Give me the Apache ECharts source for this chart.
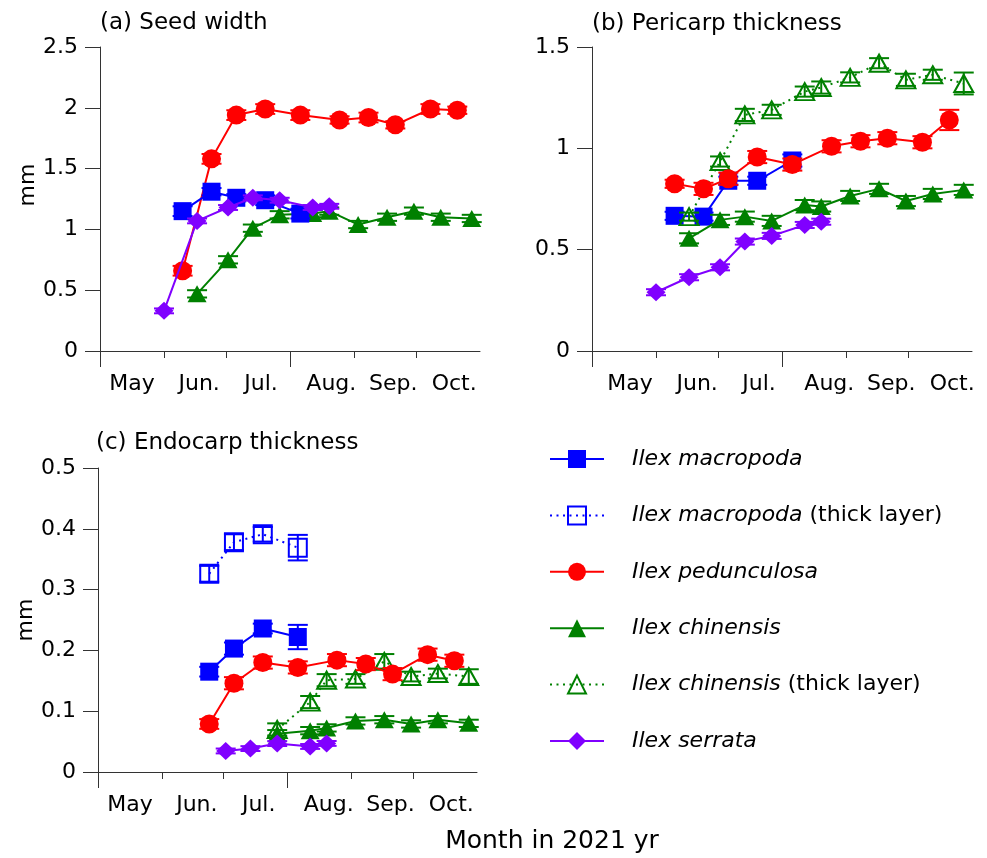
<!DOCTYPE html>
<html><head><meta charset="utf-8">
<script src="https://cdn.jsdelivr.net/npm/echarts@6/dist/echarts.min.js"></script>
<style>html,body{margin:0;padding:0;background:#fff}#c{width:987px;height:858px}</style>
</head><body><div id="c"></div>
<script>
// ---------- axis ticks / labels ----------
const monthNames = ['May', 'Jun.', 'Jul.', 'Aug.', 'Sep.', 'Oct.'];
const monthLabelDays = [15.5, 48, 78, 112, 142, 171.5];   // label centres, days after May 1
const shortTickDays = [31, 61, 123, 153];                  // Jun 1, Jul 1, Sep 1, Oct 1
const longTickDays = [0, 92];                              // May 1, Aug 1
const yTicksA = [0, 2.5, 0.5];
const yTicksB = [0, 1.5, 0.5];
const yTicksC = [0, 0.5, 0.1];

// ---------- sampling dates (2021, MM-DD) ----------
const datesMacA = ['06-10', '06-24', '07-06', '07-20', '08-06'];
const datesPed = ['06-10', '06-24', '07-06', '07-20', '08-06', '08-25', '09-08', '09-21', '10-08', '10-21'];
const datesChi = ['06-17', '07-02', '07-14', '07-27', '08-12', '08-20', '09-03', '09-17', '09-30', '10-13', '10-28'];
const datesSer = ['06-01', '06-17', '07-02', '07-14', '07-27', '08-12', '08-20'];
const datesMacC = ['06-24', '07-06', '07-20', '08-06'];
const datesPedC = ['06-24', '07-06', '07-20', '08-06', '08-25', '09-08', '09-21', '10-08', '10-21'];
const datesChiC = ['07-27', '08-12', '08-20', '09-03', '09-17', '09-30', '10-13', '10-28'];
const datesSerC = ['07-02', '07-14', '07-27', '08-12', '08-20'];

// ---------- (a) Seed width ----------
const macA = [1.15, 1.31, 1.26, 1.24, 1.13];
const macA_err = [0.04, 0.03, 0.03, 0.04, 0.04];
const pedA = [0.66, 1.58, 1.94, 1.99, 1.94, 1.90, 1.92, 1.86, 1.99, 1.98];
const pedA_err = [0.04, 0.04, 0.04, 0.04, 0.04, 0.03, 0.04, 0.03, 0.04, 0.03];
const chiA = [0.47, 0.75, 1.01, 1.12, 1.13, 1.15, 1.04, 1.10, 1.15, 1.10, 1.09];
const chiA_err = [0.03, 0.03, 0.03, 0.03, 0.03, 0.03, 0.03, 0.03, 0.03, 0.03, 0.03];
const serA = [0.33, 1.07, 1.18, 1.26, 1.24, 1.18, 1.19];
const serA_err = [0.02, 0.02, 0.02, 0.02, 0.02, 0.02, 0.02];

// ---------- (b) Pericarp thickness ----------
const macB = [0.667, 0.663, 0.84, 0.84, 0.94];
const macB_err = [0.02, 0.02, 0.02, 0.02, 0.03];
const pedB = [0.825, 0.80, 0.85, 0.957, 0.92, 1.01, 1.035, 1.05, 1.03, 1.14];
const pedB_err = [0.02, 0.03, 0.03, 0.03, 0.03, 0.03, 0.03, 0.03, 0.03, 0.05];
const chiB = [0.556, 0.647, 0.663, 0.642, 0.72, 0.713, 0.765, 0.80, 0.74, 0.775, 0.795];
const chiB_err = [0.025, 0.025, 0.025, 0.025, 0.025, 0.025, 0.025, 0.025, 0.025, 0.025, 0.025];
const chiTB = [0.663, 0.935, 1.165, 1.19, 1.28, 1.30, 1.35, 1.42, 1.338, 1.363, 1.32];
const chiTB_err = [0.02, 0.025, 0.03, 0.025, 0.025, 0.03, 0.025, 0.025, 0.03, 0.025, 0.054];
const serB = [0.29, 0.364, 0.413, 0.54, 0.568, 0.622, 0.638];
const serB_err = [0.015, 0.015, 0.015, 0.015, 0.015, 0.015, 0.015];

// ---------- (c) Endocarp thickness ----------
const macC = [0.165, 0.203, 0.236, 0.222];
const macC_err = [0.008, 0.01, 0.008, 0.02];
const macTC = [0.326, 0.378, 0.391, 0.369];
const macTC_err = [0.013, 0.013, 0.012, 0.021];
const pedC = [0.079, 0.146, 0.180, 0.172, 0.184, 0.1775, 0.161, 0.193, 0.183];
const pedC_err = [0.008, 0.01, 0.01, 0.01, 0.01, 0.01, 0.01, 0.01, 0.01];
const chiC = [0.063, 0.068, 0.0725, 0.084, 0.086, 0.079, 0.086, 0.080];
const chiC_err = [0.006, 0.006, 0.006, 0.006, 0.006, 0.006, 0.006, 0.006];
const chiTC = [0.070, 0.115, 0.151, 0.153, 0.182, 0.157, 0.162, 0.157];
const chiTC_err = [0.01, 0.01, 0.01, 0.008, 0.012, 0.008, 0.008, 0.012];
const serC = [0.0346, 0.0385, 0.0468, 0.042, 0.047];
const serC_err = [0.004, 0.004, 0.004, 0.004, 0.004];

const N_MAC = 'Ilex macropoda', N_MACT = 'Ilex macropoda (thick layer)', N_PED = 'Ilex pedunculosa',
      N_CHI = 'Ilex chinensis', N_CHIT = 'Ilex chinensis (thick layer)', N_SER = 'Ilex serrata';
const legendNames = [N_MAC, N_MACT, N_PED, N_CHI, N_CHIT, N_SER];

// ---------- styling ----------
const FONT = 'DejaVu Sans';
const BLUE = '#0000ff', RED = '#ff0000', GREEN = '#008000', PURPLE = '#8000ff';
const AX = '#333333';
const styles = {
  [N_MAC]:  { color: BLUE,   symbol: 'rect',     size: 18,       open: false, dotted: false },
  [N_MACT]: { color: BLUE,   symbol: 'rect',     size: 18,       open: true,  dotted: true },
  [N_PED]:  { color: RED,    symbol: 'circle',   size: 19,       open: false, dotted: false },
  [N_CHI]:  { color: GREEN,  symbol: 'triangle', size: [19, 17], open: false, dotted: false },
  [N_CHIT]: { color: GREEN,  symbol: 'triangle', size: [19, 17], open: true,  dotted: true },
  [N_SER]:  { color: PURPLE, symbol: 'diamond',  size: [19, 18], open: false, dotted: false }
};

function day(s) {
  const [m, d] = s.split('-').map(Number);
  return (Date.UTC(2021, m - 1, d) - Date.UTC(2021, 4, 1)) / 86400000;
}
function pts(dates, vals) { return dates.map((d, i) => [day(d), vals[i]]); }

const lineSeries = [], errSeries = [];
function add(name, panel, dates, vals, errs, z) {
  const st = styles[name];
  const data = pts(dates, vals);
  lineSeries.push({
    type: 'line', name, xAxisIndex: panel * 2, yAxisIndex: panel, z: z,
    data, symbol: st.symbol, symbolSize: st.size, showSymbol: true,
    lineStyle: { color: st.color, width: 2, type: st.dotted ? [2, 4.5] : 'solid' },
    itemStyle: st.open ? { color: 'rgba(255,255,255,0)', borderColor: st.color, borderWidth: 2 }
                       : { color: st.color, borderWidth: 0 },
    emphasis: { disabled: true }, animation: false
  });
  errSeries.push({
    type: 'custom', name, xAxisIndex: panel * 2, yAxisIndex: panel, z: z + 0.5, silent: true,
    data: data.map((p, k) => [p[0], p[1] - errs[k], p[1] + errs[k]]),
    encode: { x: 0, y: [1, 2] },
    renderItem(params, api) {
      const lo = api.coord([api.value(0), api.value(1)]);
      const hi = api.coord([api.value(0), api.value(2)]);
      const w = 10, s = { stroke: st.color, lineWidth: 2, fill: null };
      return { type: 'group', children: [
        { type: 'line', shape: { x1: lo[0], y1: lo[1], x2: hi[0], y2: hi[1] }, style: s },
        { type: 'line', shape: { x1: lo[0] - w, y1: lo[1], x2: lo[0] + w, y2: lo[1] }, style: s },
        { type: 'line', shape: { x1: hi[0] - w, y1: hi[1], x2: hi[0] + w, y2: hi[1] }, style: s }
      ] };
    }
  });
}
// panel a
add(N_CHI, 0, datesChi, chiA, chiA_err, 2);
add(N_PED, 0, datesPed, pedA, pedA_err, 3);
add(N_MAC, 0, datesMacA, macA, macA_err, 4);
add(N_SER, 0, datesSer, serA, serA_err, 5);
// panel b
add(N_MAC, 1, datesMacA, macB, macB_err, 2);
add(N_CHIT, 1, datesChi, chiTB, chiTB_err, 3);
add(N_CHI, 1, datesChi, chiB, chiB_err, 3);
add(N_PED, 1, datesPed, pedB, pedB_err, 4);
add(N_SER, 1, datesSer, serB, serB_err, 5);
// panel c
add(N_MACT, 2, datesMacC, macTC, macTC_err, 2);
add(N_MAC, 2, datesMacC, macC, macC_err, 2);
add(N_CHIT, 2, datesChiC, chiTC, chiTC_err, 3);
add(N_CHI, 2, datesChiC, chiC, chiC_err, 3);
add(N_PED, 2, datesPedC, pedC, pedC_err, 4);
add(N_SER, 2, datesSerC, serC, serC_err, 5);

const grids = [
  { left: 100, top: 47, width: 380, height: 304 },
  { left: 592, top: 47, width: 380, height: 304 },
  { left: 98, top: 468, width: 379, height: 304 }
];
const labelText = { fontFamily: FONT, fontSize: 22, color: '#000' };

const xAxes = [];
grids.forEach((g, i) => {
  xAxes.push({
    gridIndex: i, type: 'value', min: 0, max: 184, position: 'bottom',
    axisLine: { show: true, lineStyle: { color: AX, width: 1 } },
    axisTick: { show: true, customValues: shortTickDays, length: 7, lineStyle: { color: AX, width: 1 } },
    axisLabel: Object.assign({
      customValues: monthLabelDays, margin: 22, hideOverlap: false,
      padding: i === 1 ? [0, 0, 0, 12] : 0,
      formatter: v => { const k = monthLabelDays.findIndex(m => Math.abs(m - v) < 0.01); return k >= 0 ? monthNames[k] : ''; }
    }, labelText),
    splitLine: { show: false }
  });
  xAxes.push({
    gridIndex: i, type: 'value', min: 0, max: 184, position: 'bottom',
    axisLine: { show: false },
    axisTick: { show: true, customValues: longTickDays, length: 16, lineStyle: { color: AX, width: 1 } },
    axisLabel: { show: false }, splitLine: { show: false }
  });
});
const yAxes = [yTicksA, yTicksB, yTicksC].map((t, i) => ({
  gridIndex: i, type: 'value', min: t[0], max: t[1], interval: t[2],
  name: i === 1 ? '' : 'mm', nameLocation: 'middle', nameGap: 60,
  nameTextStyle: Object.assign({ padding: i === 0 ? [0, 0, 0, 28] : 0 }, labelText),
  axisLine: { show: true, lineStyle: { color: AX, width: 1 } },
  axisTick: { show: true, length: 15, lineStyle: { color: AX, width: 1 } },
  axisLabel: Object.assign({ margin: 22 }, labelText),
  splitLine: { show: false }
}));

const titleStyle = { fontFamily: FONT, fontSize: 23, fontWeight: 'normal', color: '#000' };
const option = {
  animation: false,
  backgroundColor: '#fff',
  title: [
    { text: '(a) Seed width', left: 100, top: 12, padding: 0, textStyle: titleStyle },
    { text: '(b) Pericarp thickness', left: 592, top: 13, padding: 0, textStyle: titleStyle },
    { text: '(c) Endocarp thickness', left: 96, top: 432, padding: 0, textStyle: titleStyle }
  ],
  grid: grids,
  xAxis: xAxes,
  yAxis: yAxes,
  legend: {
    orient: 'vertical', left: 549, top: 446, padding: 0,
    itemWidth: 54, itemHeight: 22.5, itemGap: 30.4,
    data: legendNames, selectedMode: true,
    formatter: name => {
      const parts = name.split(' ');
      const sp = parts.slice(0, 2).join(' ');
      const rest = parts.slice(2).join(' ');
      return '{g|}{i|' + sp + '}' + (rest ? '{n| ' + rest + '}' : '');
    },
    textStyle: {
      fontFamily: FONT, fontSize: 22, color: '#000', lineHeight: 26,
      rich: {
        g: { width: 23, fontSize: 22, lineHeight: 26 },
        i: { fontFamily: FONT, fontSize: 22, fontStyle: 'italic', color: '#000', lineHeight: 26 },
        n: { fontFamily: FONT, fontSize: 22, color: '#000', lineHeight: 26 }
      }
    }
  },
  graphic: [
    { type: 'text', x: 552, y: 841, style: { text: 'Month in 2021 yr', fontFamily: FONT, fontSize: 25,
      fill: '#000', textAlign: 'center', textVerticalAlign: 'middle' } }
  ],
  series: lineSeries.concat(errSeries)
};
const chart = echarts.init(document.getElementById('c'), null, { renderer: 'canvas' });
chart.setOption(option);
</script></body></html>
